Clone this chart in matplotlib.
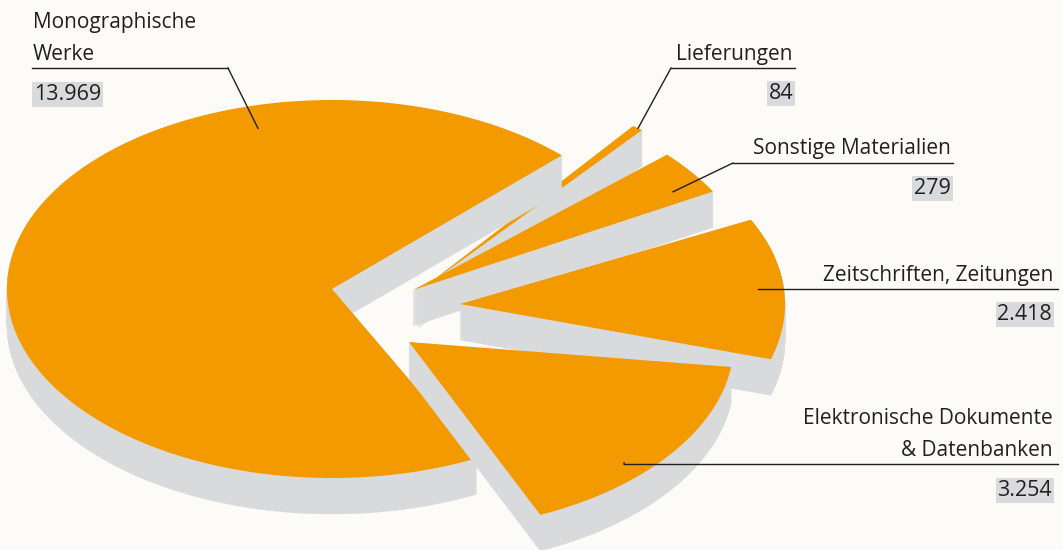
import numpy as np
import matplotlib.pyplot as plt
from matplotlib.patches import Polygon

plt.rcParams['font.family'] = [ 'Open Sans', 'DejaVu Sans' ]

# data
labels = [ [ 'Monographische', 'Werke' ],
           [ 'Lieferungen' ],
           [ 'Sonstige Materialien' ],
           [ 'Zeitschriften, Zeitungen' ],
           [ 'Elektronische Dokumente', '& Datenbanken' ] ]
values = [ 13969, 84, 279, 2418, 3254 ]
valueLabels = [ '13.969', '84', '279', '2.418', '3.254' ]

# pie layout (pixels, y down)
cx, cy = 332.0, 289.0
RX, RY = 325.0, 189.0
depth  = 36.0
explode    = [ ( 0, 0 ), ( 86, 3 ), ( 81, 1 ), ( 128, 15 ), ( 77, 53 ) ]
startAngle = [ 45.0, 53.0, 42.5, 26.5, -7.6 ]
direction  = [ +1, -1, -1, -1, -1 ]
widen      = [ 1.0, 1.2, 2.6, 1.0, 1.0 ]
rScale     = [ 1.0, 1.1, 1.06, 1.0, 1.0 ]
drawOrder  = [ 1, 2, 3, 0, 4 ]

# label layout
textX      = [ 33, 793, 951, 1053, 1053 ]
textHa     = [ 'left', 'right', 'right', 'right', 'right' ]
baselines  = [ [ 28, 60 ], [ 60 ], [ 154 ], [ 281 ], [ 424, 456 ] ]
underY     = [ 68, 68, 163, 289, 464 ]
underX     = [ ( 32, 228 ), ( 671, 795 ), ( 733, 953 ), ( 758, 1058 ), ( 624, 1058 ) ]
leaderFrom = [ 228, 671, 733, 758, 624 ]
anchorAng  = [ 105.0, 52.0, 33.0, 5.0, -44.0 ]
anchorR    = [ 0.88, 1.0, 0.9, 0.92, 0.92 ]
valueY     = [ 100, 99, 194, 320, 496 ]
valueX     = [ 34, 793, 951, 1052, 1052 ]

orange = '#F39A00'
gray   = '#D9DADC'
bg     = '#FCFBF7'
ink    = '#231F20'

total = float( sum( values ) )

fig = plt.figure( figsize = ( 10.63, 5.5 ), dpi = 100, facecolor = bg )
ax = fig.add_axes( [ 0, 0, 1, 1 ] )
ax.set_xlim( 0, 1063 )
ax.set_ylim( 550, 0 )
ax.set_facecolor( bg )
ax.axis( 'off' )

def ellPoint( i, ang, r ):
    ex, ey = explode[i]
    th = np.radians( ang )
    return ( cx + ex + r * rScale[i] * RX * np.cos( th ),
             cy + ey - r * rScale[i] * RY * np.sin( th ) )

def topFace( i ):
    span = 360.0 * values[i] / total * widen[i]
    a0 = startAngle[i]
    a1 = a0 + direction[i] * span
    ang = np.linspace( a0, a1, max( 4, int( span * 2 ) ) )
    x, y = ellPoint( i, ang, 1.0 )
    ex, ey = explode[i]
    return np.column_stack( [ np.r_[ cx + ex, x ], np.r_[ cy + ey, y ] ] )

for i in drawOrder:
    pts = topFace( i )
    # side walls: stack shifted copies of the top face
    for t in np.linspace( depth, 1, 36 ):
        ax.add_patch( Polygon( pts + [ 0, t ], closed = True, fc = gray, ec = gray, lw = 0.3 ) )
    ax.add_patch( Polygon( pts, closed = True, fc = orange, ec = 'none' ) )

for i in range( len( values ) ):
    for line, yb in zip( labels[i], baselines[i] ):
        ax.text( textX[i], yb, line, ha = textHa[i], va = 'baseline',
                 fontsize = 15, color = ink )
    ax.plot( underX[i], [ underY[i], underY[i] ], color = ink, lw = 1.0 )
    axp, ayp = ellPoint( i, anchorAng[i], anchorR[i] )
    if ( i == 3 ) :
        ayp = underY[i]
    ax.plot( [ leaderFrom[i], axp ], [ underY[i], ayp ], color = ink, lw = 1.0 )
    ax.text( valueX[i], valueY[i], valueLabels[i], ha = textHa[i], va = 'baseline',
             fontsize = 15.5, color = ink,
             bbox = dict( boxstyle = 'square,pad=0.08', fc = gray, ec = 'none' ) )

plt.savefig( 'out.png', dpi = 100, facecolor = bg )
